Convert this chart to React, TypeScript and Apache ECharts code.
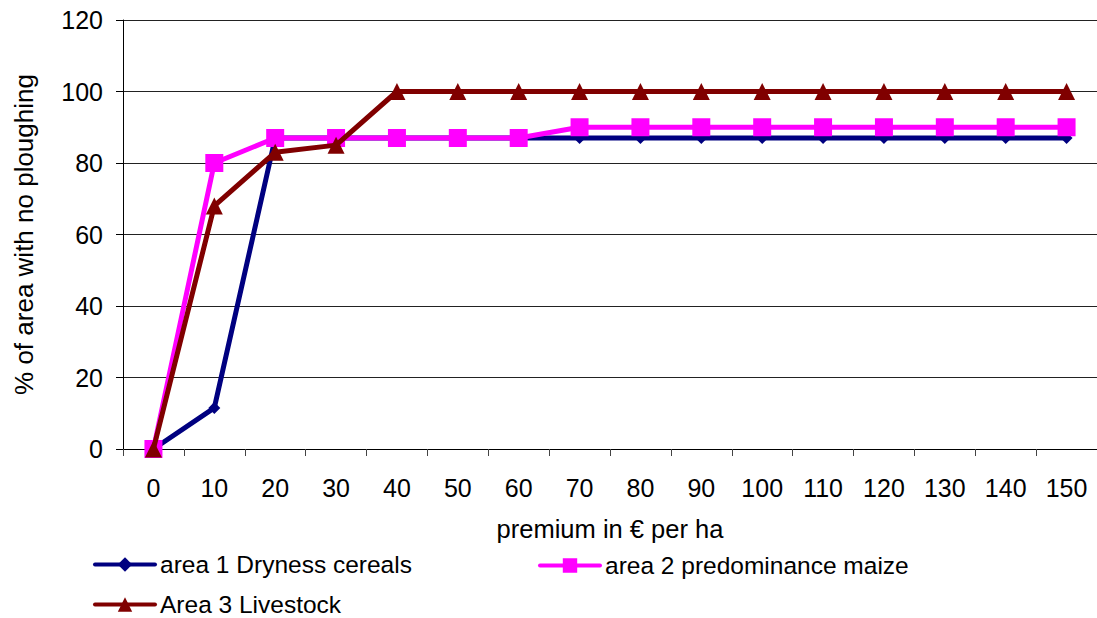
import React, { useEffect, useRef } from "react";
import * as echarts from "echarts";

const categories = ["0", "10", "20", "30", "40", "50", "60", "70", "80", "90", "100", "110", "120", "130", "140", "150"];
const area1 = [0, 11.5, 87, 87, 87, 87, 87, 87, 87, 87, 87, 87, 87, 87, 87, 87];
const area2 = [0, 80, 87, 87, 87, 87, 87, 90, 90, 90, 90, 90, 90, 90, 90, 90];
const area3 = [0, 68, 83, 85, 100, 100, 100, 100, 100, 100, 100, 100, 100, 100, 100, 100];
const seriesNames = ["area 1 Dryness cereals", "area 2 predominance maize", "Area 3 Livestock"];

const FONT = "'Liberation Sans', Arial, sans-serif";

export default function App() {
  const ref = useRef<HTMLDivElement>(null);
  useEffect(() => {
    if (!ref.current) return;
    const chart = echarts.init(ref.current, null, { renderer: "svg" });
    const legendBase = {
      orient: "horizontal" as const,
      padding: 0,
      itemWidth: 60,
      itemHeight: 18,
      lineStyle: { width: 4, cap: "round" },
      textStyle: { fontFamily: FONT, fontSize: 24.5, color: "#000" },
    };
    chart.setOption({
      animation: false,
      backgroundColor: "#fff",
      textStyle: { fontFamily: FONT },
      grid: { left: 123, top: 20, width: 975, height: 429, containLabel: false },
      legend: [
        { ...legendBase, left: 93, top: 552, data: [seriesNames[0]] },
        { ...legendBase, left: 538, top: 553, data: [seriesNames[1]] },
        { ...legendBase, left: 93, top: 592, data: [seriesNames[2]] },
      ],
      xAxis: {
        type: "category",
        data: categories,
        boundaryGap: true,
        name: "premium in € per ha",
        nameLocation: "middle",
        nameGap: 67,
        nameTextStyle: { fontFamily: FONT, fontSize: 25.5, color: "#000" },
        axisLine: { lineStyle: { color: "#000", width: 1 } },
        axisTick: { show: true, length: 7, inside: false, lineStyle: { color: "#444" } },
        axisLabel: { fontFamily: FONT, fontSize: 25, color: "#000", margin: 26 },
        splitLine: { show: false },
      },
      yAxis: {
        type: "value",
        min: 0,
        max: 120,
        interval: 20,
        name: "% of area with no ploughing",
        nameLocation: "middle",
        nameGap: 86,
        nameTextStyle: { fontFamily: FONT, fontSize: 26, color: "#000" },
        axisLine: { show: true, lineStyle: { color: "#000", width: 1 } },
        axisTick: { show: true, length: 7, lineStyle: { color: "#000" } },
        axisLabel: { fontFamily: FONT, fontSize: 25, color: "#000", margin: 20 },
        splitLine: { show: true, lineStyle: { color: "#222", width: 1 } },
      },
      series: [
        {
          name: seriesNames[0],
          type: "line",
          data: area1,
          symbol: "diamond",
          symbolSize: 12,
          lineStyle: { color: "#000080", width: 5 },
          itemStyle: { color: "#000080" },
          z: 2,
        },
        {
          name: seriesNames[1],
          type: "line",
          data: area2,
          symbol: "rect",
          symbolSize: 18,
          lineStyle: { color: "#FF00FF", width: 5 },
          itemStyle: { color: "#FF00FF" },
          z: 3,
        },
        {
          name: seriesNames[2],
          type: "line",
          data: area3,
          symbol: "triangle",
          symbolSize: 17,
          lineStyle: { color: "#800000", width: 5 },
          itemStyle: { color: "#800000" },
          z: 4,
        },
      ],
    });
    return () => chart.dispose();
  }, []);
  return (
    <div
      ref={ref}
      style={{ position: "fixed", left: 0, top: 0, width: 1097, height: 618, background: "#fff" }}
    />
  );
}
